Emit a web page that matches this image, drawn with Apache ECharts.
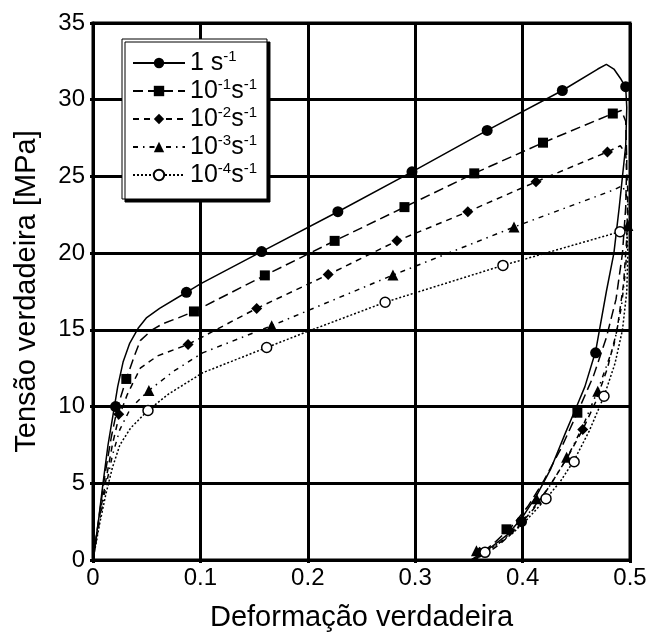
<!DOCTYPE html>
<html><head><meta charset="utf-8">
<script src="https://cdn.jsdelivr.net/npm/echarts@6/dist/echarts.min.js"></script>
<style>html,body{margin:0;padding:0;background:#fff}#c{width:654px;height:637px}</style>
</head><body><div id="c"></div>
<script>
// ---- data ----
const seriesNames = ['1 s-1', '10-1 s-1', '10-2 s-1', '10-3 s-1', '10-4 s-1'];
const xTicks = [0, 0.1, 0.2, 0.3, 0.4, 0.5];
const yTicks = [0, 5, 10, 15, 20, 25, 30, 35];

const curve1 = [[0,0],[0.005,2.5],[0.0093,5],[0.014,7.5],[0.019,9.6],[0.023,11.3],[0.028,12.9],[0.034,14.1],[0.042,15.1],[0.05,15.8],[0.062,16.4],[0.087,17.45],[0.1,18.0],[0.157,20.1],[0.228,22.7],[0.297,25.3],[0.367,28.0],[0.437,30.6],[0.47,32.0],[0.478,32.3],[0.485,32.0],[0.491,31.4],[0.496,30.8],[0.497,29.5],[0.496,27],[0.493,25],[0.49,23],[0.485,20],[0.478,17.5],[0.468,13.6],[0.458,11.3],[0.45,9.96],[0.44,8.3],[0.426,5.9],[0.413,4.2],[0.399,2.7],[0.385,1.6],[0.37,0.8],[0.36,0.3],[0.355,0]];
const curve2 = [[0,0],[0.006,3],[0.011,5.5],[0.017,8],[0.023,10],[0.031,11.8],[0.038,13.2],[0.044,14.3],[0.055,15.0],[0.065,15.4],[0.08,15.8],[0.094,16.2],[0.16,18.55],[0.225,20.8],[0.29,23.0],[0.355,25.2],[0.419,27.2],[0.484,29.1],[0.492,29.3],[0.496,28.6],[0.497,26],[0.496,23],[0.493,20],[0.487,17],[0.478,14.5],[0.466,12],[0.451,9.6],[0.436,7.3],[0.42,5.2],[0.405,3.5],[0.39,2.2],[0.375,1.2],[0.362,0.45],[0.352,0]];
const curve3 = [[0,0],[0.006,2.8],[0.012,5.2],[0.018,7.5],[0.024,9.3],[0.032,10.8],[0.044,12.5],[0.06,13.3],[0.0885,14.05],[0.1524,16.4],[0.219,18.6],[0.283,20.8],[0.349,22.7],[0.4125,24.65],[0.479,26.6],[0.491,27.0],[0.496,26.5],[0.498,24],[0.497,21],[0.494,18],[0.488,15],[0.479,12.5],[0.468,10.3],[0.456,8.5],[0.441,6.6],[0.425,4.8],[0.41,3.3],[0.395,2.1],[0.38,1.1],[0.366,0.4],[0.354,0]];
const curve4 = [[0,0],[0.006,2.5],[0.012,4.8],[0.018,6.8],[0.025,8.5],[0.035,9.9],[0.052,11.05],[0.075,12.3],[0.102,13.5],[0.1664,15.27],[0.2793,18.57],[0.392,21.7],[0.484,24.1],[0.493,24.4],[0.498,23.5],[0.498,21.8],[0.496,19],[0.492,16.5],[0.485,14],[0.47,11.05],[0.456,8.7],[0.441,6.6],[0.425,4.8],[0.41,3.4],[0.395,2.2],[0.38,1.2],[0.365,0.55],[0.353,0]];
const curve5 = [[0,0],[0.006,2.3],[0.012,4.3],[0.018,6.0],[0.025,7.5],[0.035,8.6],[0.0512,9.75],[0.07,10.8],[0.102,12.2],[0.1617,13.85],[0.2,14.9],[0.272,16.8],[0.3817,19.2],[0.4907,21.4],[0.497,21.5],[0.498,20],[0.497,17.5],[0.493,15],[0.486,12.8],[0.4758,10.67],[0.462,8.4],[0.448,6.5],[0.435,5.1],[0.4218,4.0],[0.405,2.7],[0.39,1.7],[0.375,0.95],[0.365,0.55],[0.357,0]];

const marks1 = [[0.021,10.0],[0.087,17.45],[0.157,20.1],[0.228,22.7],[0.297,25.3],[0.367,28.0],[0.437,30.6],[0.496,30.85],[0.468,13.5],[0.399,2.5]];
const marks2 = [[0.031,11.8],[0.094,16.2],[0.16,18.55],[0.225,20.8],[0.29,23.0],[0.355,25.2],[0.419,27.2],[0.484,29.1],[0.451,9.6],[0.385,2.0]];
const marks3 = [[0.024,9.5],[0.0885,14.05],[0.1524,16.4],[0.219,18.6],[0.283,20.8],[0.349,22.7],[0.4125,24.65],[0.479,26.6],[0.456,8.5],[0.388,1.9],[0.36,0.5]];
const marks4 = [[0.052,11.05],[0.1664,15.27],[0.2793,18.57],[0.392,21.7],[0.498,21.8],[0.47,11.0],[0.441,6.7],[0.413,4.0],[0.357,0.6]];
const marks5 = [[0.0512,9.75],[0.1617,13.85],[0.272,16.8],[0.3817,19.2],[0.4907,21.4],[0.4758,10.67],[0.448,6.4],[0.4218,4.0],[0.365,0.5]];

// ---- styling ----
const FONT = 'Liberation Sans, Arial, sans-serif';
const curves = [curve1, curve2, curve3, curve4, curve5];
const marks = [marks1, marks2, marks3, marks4, marks5];
const dashes = ['solid', [10, 5], [6, 5], [5, 5, 1.5, 5], [2, 2]];
const symbols = ['circle', 'rect', 'diamond', 'triangle', 'circle'];
const symSizes = [11, 10, 11, 11, 10];
const fills = ['#000', '#000', '#000', '#000', '#fff'];

const series = [];
seriesNames.forEach((n, i) => {
  series.push({
    name: n, type: 'line', data: curves[i], showSymbol: false,
    symbol: symbols[i], symbolSize: symSizes[i],
    itemStyle: { color: fills[i], borderColor: '#000', borderWidth: i === 4 ? 1.5 : 0 },
    lineStyle: { color: '#000', width: 1.5, type: dashes[i] },
    z: 3, silent: true
  });
});
seriesNames.forEach((n, i) => {
  series.push({
    name: n + ' m', type: 'scatter', data: marks[i],
    symbol: symbols[i], symbolSize: symSizes[i],
    itemStyle: { color: fills[i], borderColor: '#000', borderWidth: i === 4 ? 1.5 : 0, opacity: 1 },
    z: 4, silent: true
  });
});

function legendLabel(name) {
  const m = name.match(/^(\d+)(-\d+)?\s*s(-1)$/);
  if (!m) return name;
  if (!m[2]) return '{b|' + m[1] + ' s}{sup|' + m[3] + '}';
  return '{b|' + m[1] + '}{sup|' + m[2] + '}{b|s}{sup|' + m[3] + '}';
}

const chart = echarts.init(document.getElementById('c'), null, { renderer: 'canvas' });
chart.setOption({
  animation: false,
  backgroundColor: '#fff',
  grid: { left: 93, right: 24, top: 23, bottom: 73, show: true, borderColor: '#000', borderWidth: 3, backgroundColor: 'transparent' },
  legend: {
    data: seriesNames, orient: 'vertical', left: 122, top: 39,
    backgroundColor: '#fff', borderColor: '#000', borderWidth: 1,
    shadowColor: '#000', shadowOffsetX: 3, shadowOffsetY: 3, shadowBlur: 0,
    padding: [10, 10, 10, 10], itemWidth: 52, itemHeight: 13, itemGap: 0,
    selectedMode: false, formatter: legendLabel,
    textStyle: {
      fontFamily: FONT, fontSize: 25, lineHeight: 28, color: '#000',
      rich: {
        b: { fontFamily: FONT, fontSize: 25, lineHeight: 28, color: '#000' },
        sup: { fontFamily: FONT, fontSize: 15, lineHeight: 15, verticalAlign: 'top', color: '#000' }
      }
    }
  },
  xAxis: {
    type: 'value', min: xTicks[0], max: xTicks[xTicks.length - 1], interval: 0.1,
    name: 'Deformação verdadeira', nameLocation: 'middle', nameGap: 43,
    nameTextStyle: { fontFamily: FONT, fontSize: 29, color: '#000' },
    axisLine: { lineStyle: { color: '#000', width: 3 } },
    axisTick: { show: true, length: 3, lineStyle: { color: '#000', width: 3 } },
    axisLabel: { fontFamily: FONT, fontSize: 24, color: '#000', margin: 6 },
    splitLine: { show: true, lineStyle: { color: '#000', width: 3 } }
  },
  yAxis: {
    type: 'value', min: yTicks[0], max: yTicks[yTicks.length - 1], interval: 5,
    name: 'Tensão verdadeira [MPa]', nameLocation: 'middle', nameGap: 52,
    nameTextStyle: { fontFamily: FONT, fontSize: 29, color: '#000' },
    axisLine: { lineStyle: { color: '#000', width: 3 } },
    axisTick: { show: true, length: 3, lineStyle: { color: '#000', width: 3 } },
    axisLabel: { fontFamily: FONT, fontSize: 24, color: '#000', margin: 8 },
    splitLine: { show: true, lineStyle: { color: '#000', width: 3 } }
  },
  series: series
});
</script></body></html>
